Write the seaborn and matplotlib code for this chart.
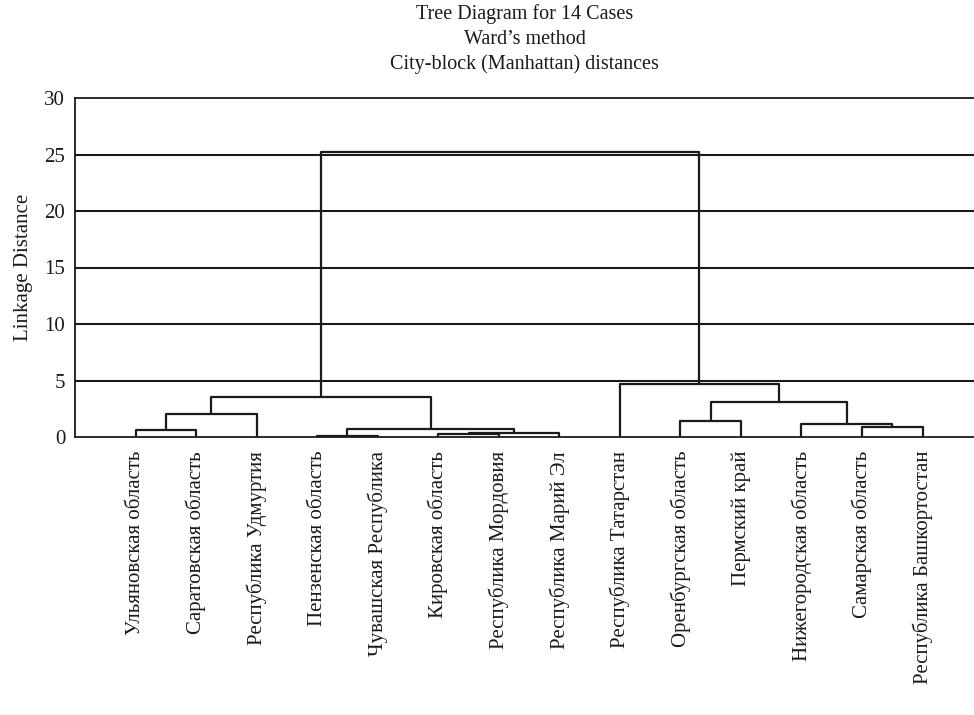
import matplotlib
matplotlib.use("Agg")
import matplotlib.pyplot as plt
import numpy as np
import pandas as pd
import seaborn as sns

# leaf labels in the order they appear along the x axis
leaves = ["Ульяновская область", "Саратовская область", "Республика Удмуртия",
          "Пензенская область", "Чувашская Республика", "Кировская область",
          "Республика Мордовия", "Республика Марий Эл", "Республика Татарстан",
          "Оренбургская область", "Пермский край", "Нижегородская область",
          "Самарская область", "Республика Башкортостан"]

# merges (scipy style: new cluster id = 14 + row number)
merge_a = [0, 14, 3, 5, 17, 16, 15, 9, 12, 11, 21, 8, 20]
merge_b = [1, 2, 4, 6, 7, 18, 19, 10, 13, 22, 23, 24, 25]
merge_h = [0.6, 2.05, 0.1, 0.25, 0.38, 0.68, 3.55, 1.45, 0.86, 1.15, 3.1, 4.72, 25.2]

grid_levels = [5, 10, 15, 20, 25]

sns.set_theme(style="white")
plt.rcParams['font.family'] = ['Liberation Serif', 'DejaVu Serif']

# node positions: leaves at 1..14, height 0
n = len(leaves)
pos_x = {i: i + 1.0 for i in range(n)}
pos_h = {i: 0.0 for i in range(n)}
rows = []
for k, (a, b, h) in enumerate(zip(merge_a, merge_b, merge_h)):
    node = n + k
    xa, xb = pos_x[a], pos_x[b]
    seg = [(xa, pos_h[a]), (xa, h), (xb, h), (xb, pos_h[b])]
    for px, py in seg:
        rows.append({"seg": k, "x": px, "y": py})
    pos_x[node] = (xa + xb) / 2
    pos_h[node] = h
links = pd.DataFrame(rows)

fig = plt.figure(figsize=(9.74, 7.15), dpi=100)
ax = fig.add_axes([75 / 974, 1 - 437 / 715, 1 - 75 / 974, (437 - 98) / 715])

for g in grid_levels:
    ax.axhline(g, color="#1a1a1a", lw=1.5, zorder=1)

sns.lineplot(data=links, x="x", y="y", units="seg", estimator=None, sort=False,
             color="#1a1a1a", lw=1.6, ax=ax, zorder=3)

ax.set_xlim(0, 14.85)
ax.set_ylim(0, 30)
ax.set_yticks([0, 5, 10, 15, 20, 25, 30])
ax.set_xticks(range(1, n + 1))
ax.set_xticklabels(leaves, rotation=90, fontsize=15)
ax.tick_params(axis="both", length=0, labelsize=15, colors="#1a1a1a")
ax.tick_params(axis="x", pad=10)
ax.tick_params(axis="y", pad=7)
ax.set_xlabel("")
ax.set_ylabel("Linkage Distance", fontsize=15, color="#1a1a1a", labelpad=8)
ax.set_title("Tree Diagram for 14 Cases\nWard’s method\nCity-block (Manhattan) distances",
             fontsize=14.5, color="#1a1a1a", pad=21, linespacing=1.37)

for side in ["left", "top", "bottom"]:
    ax.spines[side].set_color("#1a1a1a")
    ax.spines[side].set_linewidth(1.3)
ax.spines["right"].set_visible(False)

fig.savefig("out.png", dpi=100)
